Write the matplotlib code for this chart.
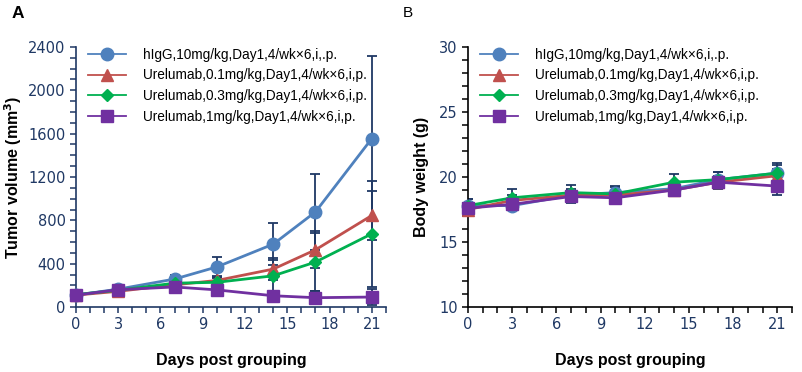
import matplotlib.pyplot as plt
from matplotlib.ticker import MultipleLocator

# datos
dias = [0, 3, 7, 10, 14, 17, 21]
grupos = ['hIgG,10mg/kg,Day1,4/wk\u00d76,i,.p.',
          'Urelumab,0.1mg/kg,Day1,4/wk\u00d76,i,p.',
          'Urelumab,0.3mg/kg,Day1,4/wk\u00d76,i,p.',
          'Urelumab,1mg/kg,Day1,4/wk\u00d76,i,p.']

# volumen tumoral (mm3)
vol_higg = [110, 165, 258, 370, 580, 878, 1555]
vol_01 = [110, 145, 205, 245, 350, 528, 845]
vol_03 = [115, 155, 220, 228, 288, 415, 676]
vol_1 = [110, 160, 185, 158, 104, 86, 92]
err_vol_higg = [15, 20, 40, 92, 195, 350, 760]
err_vol_01 = [10, 20, 30, 40, 100, 170, 225]
err_vol_03 = [10, 20, 30, 40, 150, 270, 488]
err_vol_1 = [10, 15, 20, 30, 40, 60, 75]

# peso corporal (g)
peso_higg = [17.8, 17.8, 18.6, 18.8, 19.1, 19.8, 20.3]
peso_01 = [17.5, 18.2, 18.6, 18.6, 19.0, 19.6, 20.1]
peso_03 = [17.8, 18.4, 18.8, 18.7, 19.6, 19.8, 20.3]
peso_1 = [17.6, 17.9, 18.5, 18.4, 19.0, 19.6, 19.3]
err_peso_higg = [0.5, 0.3, 0.5, 0.5, 0.5, 0.6, 0.8]
err_peso_01 = [0.4, 0.4, 0.4, 0.4, 0.4, 0.3, 0.5]
err_peso_03 = [0.5, 0.7, 0.6, 0.5, 0.6, 0.6, 0.6]
err_peso_1 = [0.4, 0.3, 0.5, 0.5, 0.4, 0.5, 0.7]

colores = ['#4f81bd', '#c0504d', '#00b050', '#7030a0']
marcadores = ['o', '^', 'D', 's']
tamanios = [9, 9, 6.5, 9]
navy = '#1f3864'

fig = plt.figure(figsize=(8.03, 3.72), dpi=100)
axA = fig.add_axes([0.0946, 0.1747, 0.386, 0.699])
axB = fig.add_axes([0.5828, 0.1747, 0.4035, 0.699])


def dibujar(ax, series, errores, spine_color):
    for y, e in zip(series, errores):
        ax.errorbar(dias, y, yerr=e, fmt='none', ecolor=navy, elinewidth=1.3,
                    capsize=3.5, capthick=1.3, zorder=2)
    for y, c, m, ms, nombre in zip(series, colores, marcadores, tamanios, grupos):
        ax.plot(dias, y, color=c, marker=m, markersize=ms, linewidth=2,
                label=nombre, zorder=3, clip_on=False)
    for lado in ['top', 'right']:
        ax.spines[lado].set_visible(False)
    for lado in ['left', 'bottom']:
        ax.spines[lado].set_color(spine_color)
        ax.spines[lado].set_linewidth(1.2)
    ax.xaxis.set_major_locator(MultipleLocator(3))
    ax.xaxis.set_minor_locator(MultipleLocator(1))
    ax.tick_params(which='both', direction='out', length=4, width=1.1,
                   color=spine_color, labelcolor=navy, labelsize=10.5)
    ax.set_xlim(0, 22)
    ax.set_xlabel('Days post grouping', fontsize=11.5, fontweight='bold',
                  family='Liberation Sans', labelpad=15)
    leg = ax.legend(loc='upper left', bbox_to_anchor=(0.0, 1.045), frameon=False,
                    handlelength=2.8, labelspacing=0.5, handletextpad=1.2,
                    prop={'family': 'Liberation Sans', 'size': 9.8})
    for h in leg.legend_handles:
        h.set_linewidth(1.3)


dibujar(axA, [vol_higg, vol_01, vol_03, vol_1],
        [err_vol_higg, err_vol_01, err_vol_03, err_vol_1], navy)
axA.set_ylim(0, 2400)
axA.yaxis.set_major_locator(MultipleLocator(400))
axA.yaxis.set_minor_locator(MultipleLocator(100))
axA.set_ylabel('Tumor volume (mm$^\\mathbf{3}$)', fontsize=11.5, fontweight='bold',
               family='Liberation Sans', labelpad=3)

dibujar(axB, [peso_higg, peso_01, peso_03, peso_1],
        [err_peso_higg, err_peso_01, err_peso_03, err_peso_1], 'black')
axB.set_ylim(10, 30)
axB.yaxis.set_major_locator(MultipleLocator(5))
axB.yaxis.set_minor_locator(MultipleLocator(1))
axB.set_ylabel('Body weight (g)', fontsize=11.5, fontweight='bold',
               family='Liberation Sans', labelpad=7)

fig.text(0.014, 0.965, 'A', fontsize=12.5, fontweight='bold', family='Liberation Sans', va='center')
fig.text(0.502, 0.965, 'B', fontsize=11, family='Liberation Sans', va='center')

fig.savefig('out.png', dpi=100)
